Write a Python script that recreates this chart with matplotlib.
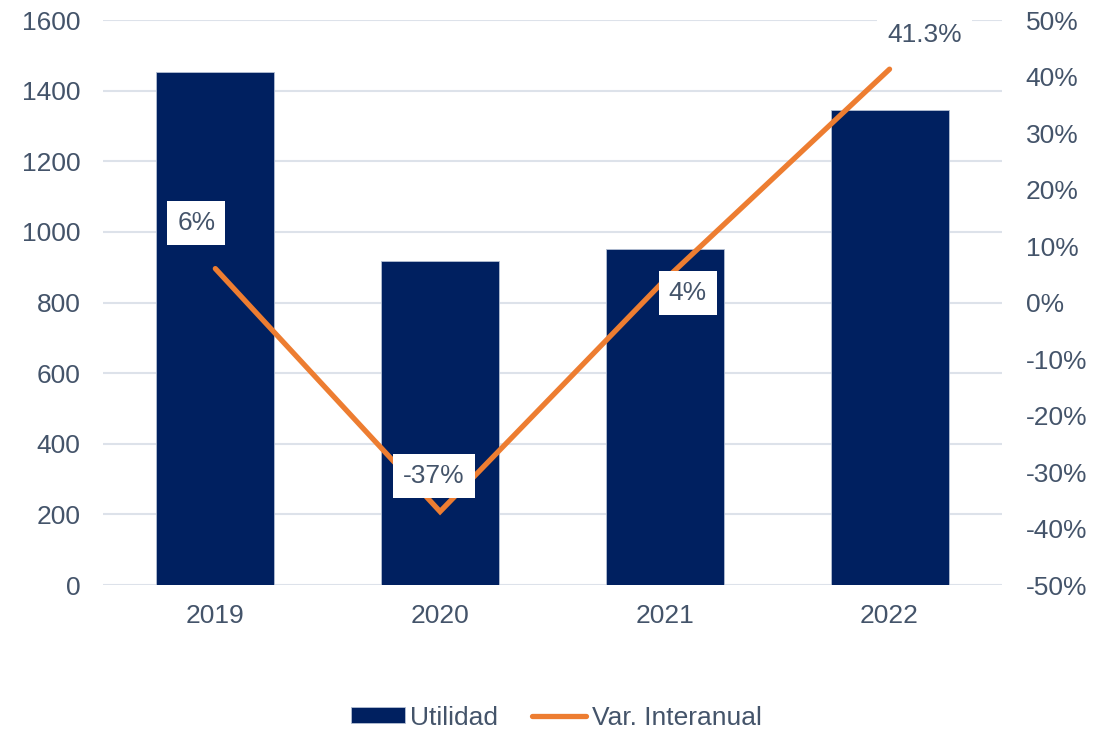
import matplotlib
matplotlib.use("Agg")
import matplotlib.pyplot as plt
from matplotlib.ticker import FuncFormatter

# data
years = ["2019", "2020", "2021", "2022"]
utilidad = [1453, 918, 952, 1345]
var_interanual = [6, -37, 4, 41.3]
var_labels = ["6%", "-37%", "4%", "41.3%"]
# label offsets in pixels from each point
label_offsets = [(-19, 46), (-6, 36), (23, -13), (35, 34)]

navy = "#002060"
orange = "#ED7D31"
txt = "#44546A"
grid = "#DDE2EA"

plt.rcParams["font.family"] = ["Liberation Sans", "DejaVu Sans"]

fig = plt.figure(figsize=(11.12, 7.3), dpi=100)
ax = fig.add_axes([0.0926, 0.1986, 0.8084, 0.774])
ax2 = ax.twinx()

x = list(range(len(years)))
bars = ax.bar(x, utilidad, width=0.525, color=navy, edgecolor="#B4C0D3",
              linewidth=0.6, label="Utilidad", zorder=2)
ax.set_ylim(0, 1600)
ax.set_yticks(range(0, 1601, 200))
ax.set_xlim(-0.5, 3.5)
ax.set_xticks(x)
ax.set_xticklabels(years)
ax.yaxis.grid(True, color=grid, linewidth=1.5, zorder=0)
ax.set_axisbelow(True)

line, = ax2.plot(x, var_interanual, color=orange, linewidth=3.8,
                 solid_capstyle="round", solid_joinstyle="miter",
                 label="Var. Interanual", zorder=3)
ax2.set_ylim(-50, 50)
ax2.set_yticks(range(-50, 51, 10))
ax2.yaxis.set_major_formatter(FuncFormatter(lambda v, p: f"{v:.0f}%"))

for i, (val, lab, off) in enumerate(zip(var_interanual, var_labels, label_offsets)):
    ax2.annotate(lab, (i, val), xytext=off, textcoords="offset pixels",
                 ha="center", va="center", fontsize=19, color=txt, zorder=5,
                 bbox=dict(boxstyle="square,pad=0.38", fc="white", ec="none"))

for a in (ax, ax2):
    for s in a.spines.values():
        s.set_visible(False)
    a.tick_params(length=0, labelsize=19, labelcolor=txt)
ax.tick_params(axis="y", pad=16)
ax.tick_params(axis="x", pad=14)
ax2.tick_params(axis="y", pad=17)

fig.legend([bars, line], ["Utilidad", "Var. Interanual"], loc="lower center",
           bbox_to_anchor=(0.5, -0.032), ncol=2, frameon=False, fontsize=19,
           labelcolor=txt, handlelength=2.05, handletextpad=0.2,
           columnspacing=1.3, handleheight=0.55)

fig.savefig("out.png", dpi=100)
